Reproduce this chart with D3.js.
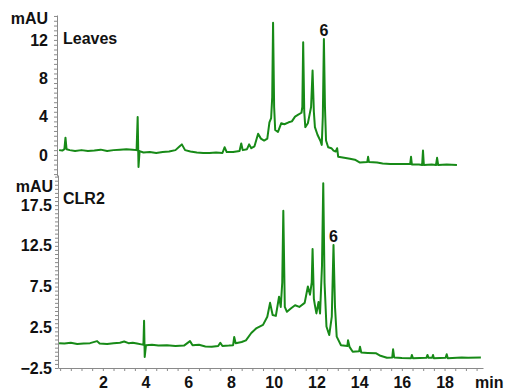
<!DOCTYPE html>
<html>
<head>
<meta charset="utf-8">
<script src="https://cdn.jsdelivr.net/npm/d3@7"></script>
<style>
  body { margin: 0; background: #fff; }
  svg { display: block; font-family: Arial, "Liberation Sans", sans-serif; }
  .axis path, .axis line { stroke: #8a8a8a; }
  .axis text { font-size: 16px; font-weight: bold; fill: #111; }
  .lbl { font-size: 16px; font-weight: bold; fill: #111; }
</style>
</head>
<body>
<svg id="chart" width="505" height="390"></svg>
<script>
// retention time (min) and absorbance (mAU)
const leavesTime = [-0.05, 0.1, 0.2, 0.25, 0.3, 0.45, 0.7, 1.0, 1.3, 1.6, 1.9, 2.2, 2.5, 2.8, 3.1, 3.4, 3.58, 3.63, 3.67, 3.72,
  3.9, 4.2, 4.5, 4.8, 5.1, 5.4, 5.6, 5.7, 5.85, 6.1, 6.4, 6.7, 7.0, 7.3, 7.6, 7.7, 7.8, 8.1, 8.4, 8.48, 8.55, 8.75, 8.85, 8.95,
  9.1, 9.27, 9.4, 9.55, 9.7, 9.8, 9.88, 9.93, 9.97, 10.02, 10.07, 10.2, 10.35, 10.5, 10.7, 10.85, 11.0, 11.15, 11.3, 11.34,
  11.38, 11.43, 11.48, 11.6, 11.68, 11.75, 11.82, 11.88, 11.93, 12.05, 12.18, 12.25, 12.3, 12.35, 12.4, 12.45, 12.55, 12.7,
  12.8, 12.9, 12.97, 13.02, 13.3, 13.57, 13.8, 14.04, 14.38, 14.42, 14.46, 14.84, 15.1, 15.45, 15.9, 16.39, 16.43, 16.47,
  16.8, 16.95, 16.99, 17.03, 17.4, 17.6, 17.65, 17.7, 18.1, 18.58];
const leavesMAU = [0.5, 0.45, 0.6, 1.8, 0.6, 0.5, 0.4, 0.5, 0.4, 0.45, 0.55, 0.4, 0.5, 0.55, 0.6, 0.55, 0.5, 3.95, -1.25, 0.4,
  0.25, 0.3, 0.2, 0.3, 0.35, 0.5, 0.9, 1.1, 0.5, 0.35, 0.25, 0.2, 0.2, 0.25, 0.2, 0.8, 0.3, 0.3, 0.4, 1.2, 0.5, 0.6, 1.1, 0.7,
  0.9, 2.2, 1.7, 1.5, 1.7, 3.4, 3.85, 6, 13.8, 5, 2.6, 2.4, 3.3, 3.2, 3.4, 3.5, 4.0, 4.2, 4.4, 5,
  11.75, 4.5, 2.9, 3.3, 4.2, 5, 8.8, 4.5, 2.9, 2.1, 1.5, 1.05, 4, 12.1, 5, 1.5, 0.8, 0.7,
  0.45, 0.35, 0.7, -0.2, -0.3, -0.4, -0.5, -0.8, -0.75, -0.2, -0.75, -0.8, -0.9, -0.95, -0.95, -0.95, -0.2, -1.0,
  -1.0, -1.05, 0.45, -1.05, -1.0, -1.05, -0.3, -1.05, -1.0, -1.05];

const clr2Time = [-0.05, 0.2, 0.5, 0.8, 1.1, 1.4, 1.73, 1.85, 2.2, 2.5, 2.8, 3.0, 3.2, 3.4, 3.6, 3.8, 3.9, 3.93, 3.96, 4.02,
  4.3, 4.6, 5.0, 5.4, 5.8, 6.08, 6.2, 6.5, 6.8, 7.1, 7.4, 7.5, 7.6, 7.9, 8.1, 8.15, 8.22, 8.5, 8.7, 8.95, 9.2, 9.5, 9.7,
  9.83, 9.95, 10.1, 10.25, 10.33, 10.4, 10.45, 10.52, 10.62, 10.8, 11.0, 11.2, 11.45, 11.6, 11.7, 11.78, 11.82, 11.88,
  11.93, 12.0, 12.1, 12.17, 12.26, 12.32, 12.38, 12.47, 12.6, 12.72, 12.8, 12.87, 12.95, 13.15, 13.45, 13.48, 13.55, 13.7,
  14.0, 14.04, 14.1, 14.4, 14.8, 15.0, 15.3, 15.55, 15.59, 15.64, 16.0, 16.43, 16.47, 16.52, 17.15, 17.2, 17.25, 17.42,
  17.46, 17.5, 18.05, 18.1, 18.15, 18.8, 19.1, 19.7];
const clr2MAU = [0.55, 0.5, 0.6, 0.45, 0.5, 0.55, 0.8, 0.5, 0.45, 0.55, 0.6, 0.75, 0.55, 0.6, 0.5, 0.4, 0.35, 3.3, -1.15, 0.3,
  0.35, 0.25, 0.3, 0.2, 0.25, 0.8, 0.3, 0.35, 0.15, 0.1, 0.2, 0.6, 0.2, 0.25, 0.3, 1.3, 0.55, 0.7, 0.9, 1.8, 2.4, 2.8, 3.8,
  5.5, 4.0, 3.9, 6.25, 5, 8, 16.8, 5.0, 4.4, 4.8, 5.2, 5.0, 5.5, 7.5, 6.5, 8, 12.1, 6,
  5.2, 4.2, 5.6, 4.2, 10, 20.2, 8, 2.6, 1.55, 3.8, 12.6, 5, 1.35, 0.3, 0.2, 0.9, 0.1, -0.5,
  -0.45, 0.1, -0.6, -0.65, -0.7, -1.0, -1.25, -1.2, -0.2, -1.2, -1.27, -1.3, -0.9, -1.3, -1.25, -0.9, -1.25, -1.25,
  -0.9, -1.3, -1.25, -0.8, -1.3, -1.2, -1.25, -1.2];

const xLabels = [2, 4, 6, 8, 10, 12, 14, 16, 18];
const leavesLabels = [0, 4, 8, 12];
const clr2Labels = [-2.5, 2.5, 7.5, 12.5, 17.5];

const svg = d3.select('#chart');
const green = '#178a17';

const x = d3.scaleLinear().domain([-0.1, 19.8]).range([58, 483]);
const yTop = d3.scaleLinear().domain([-2.2, 14.6]).range([176, 15]);
const yBot = d3.scaleLinear().domain([-2.5, 21.2]).range([368, 175]);

const minorX = d3.range(0, 19.75, 0.5);
const fmt = labels => d => labels.some(l => Math.abs(l - d) < 1e-6) ? d3.format('')(d) : '';

// top panel: Leaves
svg.append('g')
  .attr('class', 'axis')
  .attr('transform', 'translate(57,0)')
  .call(d3.axisLeft(yTop)
    .tickValues(d3.range(-2, 14.6, 0.5))
    .tickFormat(fmt(leavesLabels))
    .tickSize(3).tickSizeOuter(0).tickPadding(6));

// bottom panel: CLR2
svg.append('g')
  .attr('class', 'axis')
  .attr('transform', 'translate(58,0)')
  .call(d3.axisLeft(yBot)
    .tickValues(d3.range(-2.5, 21.1, 0.5))
    .tickFormat(fmt(clr2Labels))
    .tickSize(3).tickSizeOuter(0).tickPadding(3));

svg.append('g')
  .attr('class', 'axis')
  .attr('transform', `translate(0,${yBot(-2.5)})`)
  .call(d3.axisBottom(x)
    .tickValues(minorX)
    .tickFormat(fmt(xLabels))
    .tickSize(3).tickSizeOuter(0).tickPadding(6));

const lineTop = d3.line().x(d => x(d[0])).y(d => yTop(d[1]));
const lineBot = d3.line().x(d => x(d[0])).y(d => yBot(d[1]));

svg.append('path')
  .datum(d3.zip(leavesTime, leavesMAU))
  .attr('fill', 'none')
  .attr('stroke', green)
  .attr('stroke-width', 2)
  .attr('stroke-linejoin', 'round')
  .attr('d', lineTop);

svg.append('path')
  .datum(d3.zip(clr2Time, clr2MAU))
  .attr('fill', 'none')
  .attr('stroke', green)
  .attr('stroke-width', 2)
  .attr('stroke-linejoin', 'round')
  .attr('d', lineBot);

// titles and annotations
svg.append('text').attr('class', 'lbl').attr('x', 48).attr('y', 24).attr('text-anchor', 'end').text('mAU');
svg.append('text').attr('class', 'lbl').attr('x', 53).attr('y', 192).attr('text-anchor', 'end').text('mAU');
svg.append('text').attr('class', 'lbl').attr('x', 63).attr('y', 44).text('Leaves');
svg.append('text').attr('class', 'lbl').attr('x', 63).attr('y', 204).text('CLR2');
svg.append('text').attr('class', 'lbl').attr('x', x(12.35)).attr('y', yTop(12.1) - 3).attr('text-anchor', 'middle').text('6');
svg.append('text').attr('class', 'lbl').attr('x', x(12.8)).attr('y', yBot(12.6) - 3).attr('text-anchor', 'middle').text('6');
svg.append('text').attr('class', 'lbl').attr('x', 475).attr('y', 388).text('min');
</script>
</body>
</html>
